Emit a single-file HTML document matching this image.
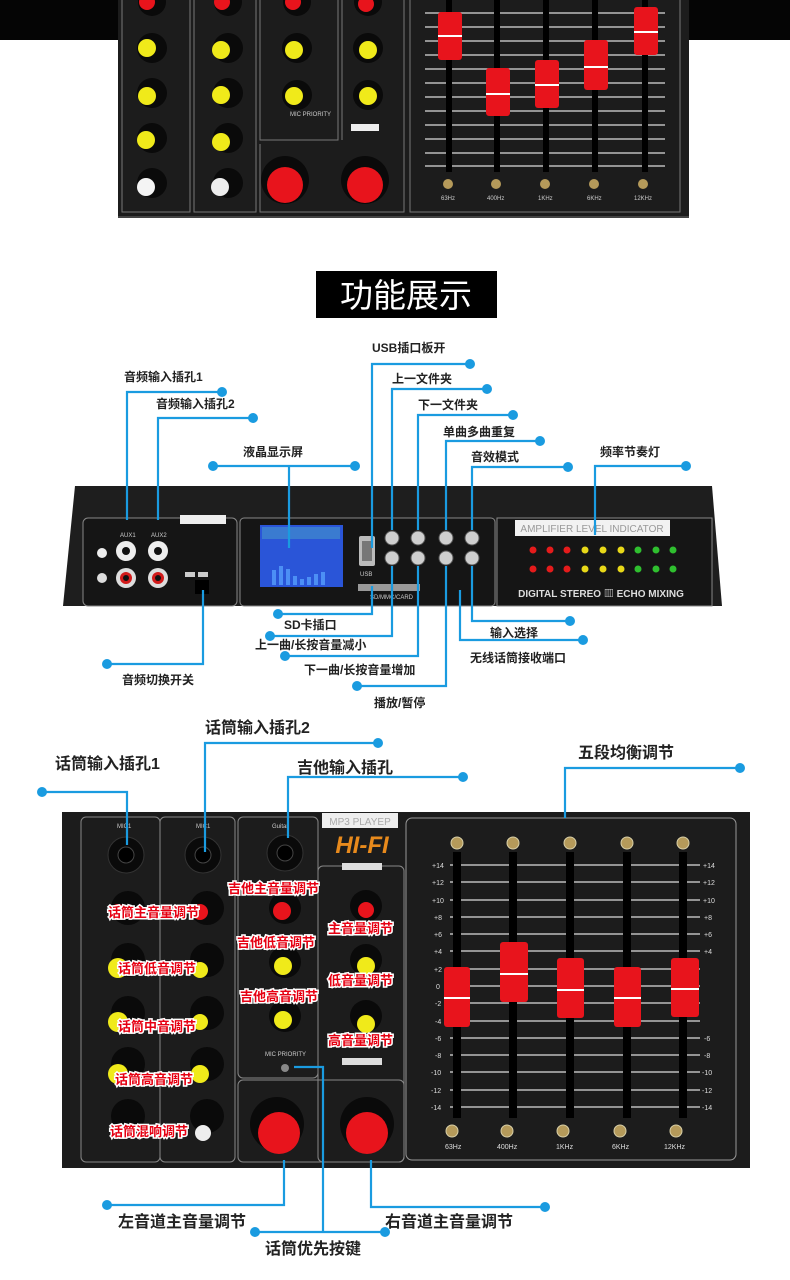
<!DOCTYPE html>
<html><head><meta charset="utf-8"><style>
html,body{margin:0;padding:0;background:#fff;}
svg{display:block;}
text{font-family:"Liberation Sans","Noto Sans CJK SC",sans-serif;}
.lb{font-size:12px;font-weight:bold;fill:#222;}
.lb2{font-size:16px;font-weight:bold;fill:#222;}
.rl{font-size:13px;font-weight:bold;fill:#e60012;stroke:#fff;stroke-width:3;paint-order:stroke;}
.ln{stroke:#1a9be0;stroke-width:2.2;fill:none;}
.dt{fill:#1a9be0;}
.sm{font-size:6px;fill:#ccc;}
.pn{fill:none;stroke:#777;stroke-width:1;}
</style></head><body>
<svg width="790" height="1280" viewBox="0 0 790 1280" xmlns="http://www.w3.org/2000/svg">
<rect width="790" height="1280" fill="#fff"/>
<!-- TOP PHOTO -->
<rect x="0" y="0" width="790" height="40" fill="#050505"/>
<rect x="118" y="0" width="571" height="218" fill="#1c1c1c"/>
<rect x="118" y="216" width="571" height="2" fill="#444"/>
<path class="pn" d="M122 0V212H190V0 M194 0V212H256V0 M260 0V140H338V0 M260 144V212H404V0 M342 0V140 M410 0V212H680V0"/>
<!-- top knobs -->
<g>
<circle cx="152" cy="2" r="14" fill="#0a0a0a"/><circle cx="147" cy="2" r="8" fill="#e8141c"/>
<circle cx="228" cy="2" r="14" fill="#0a0a0a"/><circle cx="222" cy="2" r="8" fill="#e8141c"/>
<circle cx="297" cy="2" r="14" fill="#0a0a0a"/><circle cx="293" cy="2" r="8" fill="#e8141c"/>
<circle cx="368" cy="2" r="14" fill="#0a0a0a"/><circle cx="366" cy="4" r="8" fill="#e8141c"/>
<circle cx="152" cy="48" r="15" fill="#0a0a0a"/><circle cx="147" cy="48" r="9" fill="#f0ea1a"/>
<circle cx="152" cy="93" r="15" fill="#0a0a0a"/><circle cx="147" cy="96" r="9" fill="#f0ea1a"/>
<circle cx="152" cy="138" r="15" fill="#0a0a0a"/><circle cx="146" cy="140" r="9" fill="#f0ea1a"/>
<circle cx="152" cy="183" r="15" fill="#0a0a0a"/><circle cx="146" cy="187" r="9" fill="#f4f4f4"/>
<circle cx="228" cy="48" r="15" fill="#0a0a0a"/><circle cx="221" cy="50" r="9" fill="#f0ea1a"/>
<circle cx="228" cy="93" r="15" fill="#0a0a0a"/><circle cx="221" cy="95" r="9" fill="#f0ea1a"/>
<circle cx="228" cy="138" r="15" fill="#0a0a0a"/><circle cx="221" cy="142" r="9" fill="#f0ea1a"/>
<circle cx="228" cy="183" r="15" fill="#0a0a0a"/><circle cx="220" cy="187" r="9" fill="#eee"/>
<circle cx="297" cy="48" r="15" fill="#0a0a0a"/><circle cx="294" cy="50" r="9" fill="#f0ea1a"/>
<circle cx="297" cy="95" r="15" fill="#0a0a0a"/><circle cx="294" cy="96" r="9" fill="#f0ea1a"/>
<circle cx="368" cy="48" r="15" fill="#0a0a0a"/><circle cx="368" cy="50" r="9" fill="#f0ea1a"/>
<circle cx="368" cy="95" r="15" fill="#0a0a0a"/><circle cx="368" cy="96" r="9" fill="#f0ea1a"/>
<circle cx="285" cy="180" r="24" fill="#0a0a0a"/><circle cx="285" cy="185" r="18" fill="#e8141c"/>
<circle cx="365" cy="180" r="24" fill="#0a0a0a"/><circle cx="365" cy="185" r="18" fill="#e8141c"/>
<rect x="351" y="124" width="28" height="7" fill="#eee"/>
<text x="290" y="116" class="sm">MIC PRIORITY</text>
</g>
<!-- top EQ -->
<g stroke="#bbb" stroke-width="1.5">
<line x1="425" y1="13" x2="665" y2="13"/><line x1="425" y1="27" x2="665" y2="27"/><line x1="425" y1="41" x2="665" y2="41"/><line x1="425" y1="55" x2="665" y2="55"/><line x1="425" y1="69" x2="665" y2="69"/><line x1="425" y1="83" x2="665" y2="83"/><line x1="425" y1="97" x2="665" y2="97"/><line x1="425" y1="111" x2="665" y2="111"/><line x1="425" y1="125" x2="665" y2="125"/><line x1="425" y1="139" x2="665" y2="139"/><line x1="425" y1="153" x2="665" y2="153"/><line x1="425" y1="166" x2="665" y2="166"/>
</g>
<g fill="#000"><rect x="446" y="0" width="6" height="172"/><rect x="494" y="0" width="6" height="172"/><rect x="543" y="0" width="6" height="172"/><rect x="592" y="0" width="6" height="172"/><rect x="642" y="0" width="6" height="172"/></g>
<g fill="#e8141c">
<rect x="438" y="12" width="24" height="48" rx="3"/><rect x="486" y="68" width="24" height="48" rx="3"/><rect x="535" y="60" width="24" height="48" rx="3"/><rect x="584" y="40" width="24" height="50" rx="3"/><rect x="634" y="7" width="24" height="48" rx="3"/>
</g>
<g fill="#fff"><rect x="438" y="35" width="24" height="2"/><rect x="486" y="93" width="24" height="2"/><rect x="535" y="84" width="24" height="2"/><rect x="584" y="66" width="24" height="2"/><rect x="634" y="31" width="24" height="2"/></g>
<g fill="#b59a5a"><circle cx="448" cy="184" r="5"/><circle cx="496" cy="184" r="5"/><circle cx="545" cy="184" r="5"/><circle cx="594" cy="184" r="5"/><circle cx="643" cy="184" r="5"/></g>
<g class="sm" font-size="5"><text x="441" y="200">63Hz</text><text x="487" y="200">400Hz</text><text x="538" y="200">1KHz</text><text x="587" y="200">6KHz</text><text x="634" y="200">12KHz</text></g>

<!-- TITLE -->
<rect x="316" y="271" width="181" height="47" fill="#000"/>
<text x="406" y="307" text-anchor="middle" font-size="33" fill="#fff" style="font-family:'Noto Sans CJK SC',sans-serif">功能展示</text>

<!-- MIDDLE PANEL -->
<path d="M75 486H712L722 606H63Z" fill="#1e1e1e"/>
<rect x="83" y="518" width="154" height="88" rx="5" fill="#151515" stroke="#888" stroke-width="1"/>
<rect x="180" y="515" width="46" height="9" fill="#eee"/>
<rect x="240" y="518" width="255" height="88" rx="4" fill="#151515" stroke="#888"/>
<rect x="497" y="518" width="215" height="88" fill="#151515" stroke="#888"/>
<rect x="260" y="525" width="83" height="62" fill="#2a55d8"/>
<rect x="262" y="527" width="78" height="12" fill="#3a7bd0"/>
<g fill="#4c8ff5"><rect x="272" y="570" width="4" height="15"/><rect x="279" y="566" width="4" height="19"/><rect x="286" y="569" width="4" height="16"/><rect x="293" y="576" width="4" height="9"/><rect x="300" y="579" width="4" height="6"/><rect x="307" y="577" width="4" height="8"/><rect x="314" y="574" width="4" height="11"/><rect x="321" y="572" width="4" height="13"/></g>
<circle cx="102" cy="553" r="5" fill="#eee"/><circle cx="102" cy="578" r="5" fill="#ddd"/>
<circle cx="126" cy="551" r="10" fill="#eee"/><circle cx="126" cy="551" r="4" fill="#111"/>
<circle cx="158" cy="551" r="10" fill="#eee"/><circle cx="158" cy="551" r="4" fill="#111"/>
<circle cx="126" cy="578" r="10" fill="#ddd"/><circle cx="126" cy="578" r="6" fill="#d21a1a"/><circle cx="126" cy="578" r="3" fill="#111"/>
<circle cx="158" cy="578" r="10" fill="#ddd"/><circle cx="158" cy="578" r="6" fill="#d21a1a"/><circle cx="158" cy="578" r="3" fill="#111"/>
<text x="120" y="537" class="sm" font-size="7" fill="#eee">AUX1</text><text x="151" y="537" class="sm" font-size="7" fill="#eee">AUX2</text>
<rect x="185" y="572" width="10" height="5" fill="#ccc"/><rect x="198" y="572" width="10" height="5" fill="#ccc"/>
<rect x="195" y="580" width="14" height="14" fill="#000"/>
<rect x="359" y="536" width="16" height="30" rx="2" fill="#bbb"/><rect x="362" y="541" width="10" height="20" fill="#777"/>
<text x="360" y="576" class="sm" font-size="7">USB</text>
<rect x="358" y="584" width="62" height="7" fill="#999"/>
<text x="370" y="599" class="sm" font-size="5">SD/MMC/CARD</text>
<g fill="#cfcfcf" stroke="#555"><circle cx="392" cy="538" r="7"/><circle cx="418" cy="538" r="7"/><circle cx="446" cy="538" r="7"/><circle cx="472" cy="538" r="7"/><circle cx="392" cy="558" r="7"/><circle cx="418" cy="558" r="7"/><circle cx="446" cy="558" r="7"/><circle cx="472" cy="558" r="7"/></g>
<rect x="515" y="520" width="155" height="16" fill="#f2f2f2"/>
<text x="592" y="532" text-anchor="middle" font-size="10" fill="#999">AMPLIFIER LEVEL INDICATOR</text>
<g><circle cx="533" cy="550" r="3.5" fill="#e51b1b"/><circle cx="550" cy="550" r="3.5" fill="#e51b1b"/><circle cx="567" cy="550" r="3.5" fill="#e51b1b"/><circle cx="585" cy="550" r="3.5" fill="#e8d818"/><circle cx="603" cy="550" r="3.5" fill="#e8d818"/><circle cx="621" cy="550" r="3.5" fill="#e8d818"/><circle cx="638" cy="550" r="3.5" fill="#2fbf2f"/><circle cx="656" cy="550" r="3.5" fill="#2fbf2f"/><circle cx="673" cy="550" r="3.5" fill="#2fbf2f"/>
<circle cx="533" cy="569" r="3.5" fill="#e51b1b"/><circle cx="550" cy="569" r="3.5" fill="#e51b1b"/><circle cx="567" cy="569" r="3.5" fill="#e51b1b"/><circle cx="585" cy="569" r="3.5" fill="#e8d818"/><circle cx="603" cy="569" r="3.5" fill="#e8d818"/><circle cx="621" cy="569" r="3.5" fill="#e8d818"/><circle cx="638" cy="569" r="3.5" fill="#2fbf2f"/><circle cx="656" cy="569" r="3.5" fill="#2fbf2f"/><circle cx="673" cy="569" r="3.5" fill="#2fbf2f"/></g>
<text x="601" y="597" text-anchor="middle" font-size="10" font-weight="bold" fill="#ddd">DIGITAL STEREO ▥ ECHO MIXING</text>

<!-- middle connectors -->
<g class="ln">
<path d="M127 520V392H222"/><path d="M158 520V418H253"/>
<path d="M213 466H355 M289 466V548"/>
<path d="M372 548V364H470"/><path d="M392 530V389H487"/><path d="M418 530V415H513"/><path d="M446 530V441H540"/><path d="M472 530V467H568"/>
<path d="M595 535V466H686"/>
<path d="M372 586V614H278"/><path d="M392 566V636H270"/><path d="M418 566V656H285"/><path d="M446 566V686H357"/>
<path d="M472 566V621H570"/><path d="M460 590V640H583"/>
<path d="M203 590V664H107"/>
</g>
<g class="dt">
<circle cx="222" cy="392" r="5"/><circle cx="253" cy="418" r="5"/><circle cx="213" cy="466" r="5"/><circle cx="355" cy="466" r="5"/>
<circle cx="470" cy="364" r="5"/><circle cx="487" cy="389" r="5"/><circle cx="513" cy="415" r="5"/><circle cx="540" cy="441" r="5"/><circle cx="568" cy="467" r="5"/><circle cx="686" cy="466" r="5"/>
<circle cx="278" cy="614" r="5"/><circle cx="270" cy="636" r="5"/><circle cx="285" cy="656" r="5"/><circle cx="357" cy="686" r="5"/>
<circle cx="570" cy="621" r="5"/><circle cx="583" cy="640" r="5"/><circle cx="107" cy="664" r="5"/>
</g>
<g class="lb">
<text x="372" y="352">USB插口板开</text>
<text x="124" y="381">音频输入插孔1</text>
<text x="156" y="408">音频输入插孔2</text>
<text x="392" y="383">上一文件夹</text>
<text x="418" y="409">下一文件夹</text>
<text x="443" y="436">单曲多曲重复</text>
<text x="243" y="456">液晶显示屏</text>
<text x="471" y="461">音效模式</text>
<text x="600" y="456">频率节奏灯</text>
<text x="284" y="629">SD卡插口</text>
<text x="255" y="649">上一曲/长按音量减小</text>
<text x="304" y="674">下一曲/长按音量增加</text>
<text x="374" y="707">播放/暂停</text>
<text x="490" y="637">输入选择</text>
<text x="470" y="662">无线话筒接收端口</text>
<text x="122" y="684">音频切换开关</text>
</g>

<!-- BOTTOM PANEL -->
<rect x="62" y="812" width="688" height="356" fill="#1c1c1c"/>
<rect x="81" y="817" width="79" height="345" rx="5" fill="none" stroke="#888"/>
<rect x="160" y="817" width="75" height="345" rx="5" fill="none" stroke="#888"/>
<rect x="238" y="817" width="80" height="261" rx="5" fill="none" stroke="#888"/>
<rect x="318" y="866" width="86" height="296" rx="5" fill="none" stroke="#888"/>
<rect x="238" y="1080" width="166" height="82" rx="5" fill="none" stroke="#888"/>
<rect x="406" y="818" width="330" height="342" rx="6" fill="none" stroke="#999"/>
<rect x="322" y="813" width="76" height="15" fill="#eee"/>
<text x="360" y="825" text-anchor="middle" font-size="10" fill="#aaa">MP3 PLAYEP</text>
<text x="362" y="853" text-anchor="middle" font-size="24" font-weight="bold" font-style="italic" fill="#e88a1c">HI-FI</text>
<rect x="342" y="863" width="40" height="7" fill="#ddd"/><rect x="342" y="1058" width="40" height="7" fill="#ddd"/>
<g class="sm" font-size="7" fill="#eee"><text x="117" y="828">MIC1</text><text x="196" y="828">MIC1</text><text x="272" y="828">Guitar</text><text x="265" y="1056">MIC PRIORITY</text></g>
<g><circle cx="126" cy="855" r="18" fill="#0a0a0a" stroke="#333"/><circle cx="126" cy="855" r="8" fill="#000" stroke="#444"/>
<circle cx="203" cy="855" r="18" fill="#0a0a0a" stroke="#333"/><circle cx="203" cy="855" r="8" fill="#000" stroke="#444"/>
<circle cx="285" cy="853" r="18" fill="#0a0a0a" stroke="#333"/><circle cx="285" cy="853" r="8" fill="#000" stroke="#444"/></g>
<g>
<circle cx="128" cy="908" r="17" fill="#0a0a0a"/><circle cx="118" cy="912" r="8" fill="#e8141c"/>
<circle cx="128" cy="960" r="17" fill="#0a0a0a"/><circle cx="118" cy="968" r="10" fill="#f0ea1a"/>
<circle cx="128" cy="1013" r="17" fill="#0a0a0a"/><circle cx="118" cy="1022" r="10" fill="#f0ea1a"/>
<circle cx="128" cy="1064" r="17" fill="#0a0a0a"/><circle cx="118" cy="1074" r="10" fill="#f0ea1a"/>
<circle cx="128" cy="1116" r="17" fill="#0a0a0a"/>
<circle cx="207" cy="908" r="17" fill="#0a0a0a"/><circle cx="200" cy="912" r="8" fill="#e8141c"/>
<circle cx="207" cy="960" r="17" fill="#0a0a0a"/><circle cx="200" cy="970" r="8" fill="#f0ea1a"/>
<circle cx="207" cy="1013" r="17" fill="#0a0a0a"/><circle cx="200" cy="1022" r="8" fill="#f0ea1a"/>
<circle cx="207" cy="1064" r="17" fill="#0a0a0a"/><circle cx="200" cy="1074" r="9" fill="#f0ea1a"/>
<circle cx="207" cy="1116" r="17" fill="#0a0a0a"/><circle cx="203" cy="1133" r="8" fill="#eee"/>
<circle cx="285" cy="908" r="16" fill="#0a0a0a"/><circle cx="282" cy="911" r="9" fill="#e8141c"/>
<circle cx="285" cy="962" r="16" fill="#0a0a0a"/><circle cx="283" cy="966" r="9" fill="#f0ea1a"/>
<circle cx="285" cy="1016" r="16" fill="#0a0a0a"/><circle cx="283" cy="1020" r="9" fill="#f0ea1a"/>
<circle cx="366" cy="906" r="16" fill="#0a0a0a"/><circle cx="366" cy="910" r="8" fill="#e8141c"/>
<circle cx="366" cy="960" r="16" fill="#0a0a0a"/><circle cx="366" cy="966" r="9" fill="#f0ea1a"/>
<circle cx="366" cy="1016" r="16" fill="#0a0a0a"/><circle cx="366" cy="1024" r="9" fill="#f0ea1a"/>
<circle cx="277" cy="1124" r="27" fill="#0a0a0a"/><circle cx="279" cy="1133" r="21" fill="#e8141c"/>
<circle cx="367" cy="1124" r="27" fill="#0a0a0a"/><circle cx="367" cy="1133" r="21" fill="#e8141c"/>
<circle cx="285" cy="1068" r="4" fill="#888"/>
</g>
<!-- EQ -->
<g stroke="#bbb" stroke-width="1.6">
<line x1="450" y1="865" x2="700" y2="865"/><line x1="450" y1="882" x2="700" y2="882"/><line x1="450" y1="900" x2="700" y2="900"/><line x1="450" y1="917" x2="700" y2="917"/><line x1="450" y1="934" x2="700" y2="934"/><line x1="450" y1="951" x2="700" y2="951"/><line x1="450" y1="969" x2="700" y2="969"/><line x1="450" y1="986" x2="700" y2="986"/><line x1="450" y1="1003" x2="700" y2="1003"/><line x1="450" y1="1021" x2="700" y2="1021"/><line x1="450" y1="1038" x2="700" y2="1038"/><line x1="450" y1="1055" x2="700" y2="1055"/><line x1="450" y1="1072" x2="700" y2="1072"/><line x1="450" y1="1090" x2="700" y2="1090"/><line x1="450" y1="1107" x2="700" y2="1107"/>
</g>
<g fill="#000"><rect x="453" y="852" width="8" height="266"/><rect x="509" y="852" width="8" height="266"/><rect x="566" y="852" width="8" height="266"/><rect x="623" y="852" width="8" height="266"/><rect x="679" y="852" width="8" height="266"/></g>
<g font-size="7" fill="#ddd">
<text x="432" y="868">+14</text><text x="432" y="885">+12</text><text x="432" y="903">+10</text><text x="434" y="920">+8</text><text x="434" y="937">+6</text><text x="434" y="954">+4</text><text x="434" y="972">+2</text><text x="436" y="989">0</text><text x="435" y="1006">-2</text><text x="435" y="1024">-4</text><text x="435" y="1041">-6</text><text x="435" y="1058">-8</text><text x="431" y="1075">-10</text><text x="431" y="1093">-12</text><text x="431" y="1110">-14</text>
<text x="703" y="868">+14</text><text x="703" y="885">+12</text><text x="703" y="903">+10</text><text x="704" y="920">+8</text><text x="704" y="937">+6</text><text x="704" y="954">+4</text><text x="704" y="1041">-6</text><text x="704" y="1058">-8</text><text x="702" y="1075">-10</text><text x="702" y="1093">-12</text><text x="702" y="1110">-14</text>
</g>
<g fill="#e8141c">
<rect x="444" y="967" width="26" height="60" rx="3"/><rect x="500" y="942" width="28" height="60" rx="3"/><rect x="557" y="958" width="27" height="60" rx="3"/><rect x="614" y="967" width="27" height="60" rx="3"/><rect x="671" y="958" width="28" height="59" rx="3"/>
</g>
<g fill="#fff"><rect x="444" y="997" width="26" height="2"/><rect x="500" y="973" width="28" height="2"/><rect x="557" y="989" width="27" height="2"/><rect x="614" y="997" width="27" height="2"/><rect x="671" y="988" width="28" height="2"/></g>
<g fill="#b59a5a" stroke="#d8cfa8"><circle cx="457" cy="843" r="6"/><circle cx="513" cy="843" r="6"/><circle cx="570" cy="843" r="6"/><circle cx="627" cy="843" r="6"/><circle cx="683" cy="843" r="6"/>
<circle cx="452" cy="1131" r="6"/><circle cx="507" cy="1131" r="6"/><circle cx="563" cy="1131" r="6"/><circle cx="620" cy="1131" r="6"/><circle cx="676" cy="1131" r="6"/></g>
<g font-size="7" fill="#ddd"><text x="445" y="1149">63Hz</text><text x="497" y="1149">400Hz</text><text x="556" y="1149">1KHz</text><text x="612" y="1149">6KHz</text><text x="664" y="1149">12KHz</text></g>
<!-- red labels -->
<g class="rl">
<text x="108" y="917">话筒主音量调节</text>
<text x="118" y="973">话筒低音调节</text>
<text x="118" y="1031">话筒中音调节</text>
<text x="115" y="1084">话筒高音调节</text>
<text x="110" y="1136">话筒混响调节</text>
<text x="228" y="893">吉他主音量调节</text>
<text x="237" y="947">吉他低音调节</text>
<text x="240" y="1001">吉他高音调节</text>
<text x="328" y="933">主音量调节</text>
<text x="328" y="985">低音量调节</text>
<text x="328" y="1045">高音量调节</text>
</g>
<!-- bottom connectors -->
<g class="ln">
<path d="M127 845V792H42"/>
<path d="M205 852V743H378"/>
<path d="M288 838V777H463"/>
<path d="M565 818V768H740"/>
<path d="M284 1160V1205H107"/>
<path d="M371 1160V1207H545"/>
<path d="M294 1067H323V1232 M255 1232H385"/>
</g>
<g class="dt">
<circle cx="42" cy="792" r="5"/><circle cx="378" cy="743" r="5"/><circle cx="463" cy="777" r="5"/><circle cx="740" cy="768" r="5"/>
<circle cx="107" cy="1205" r="5"/><circle cx="545" cy="1207" r="5"/><circle cx="255" cy="1232" r="5"/><circle cx="385" cy="1232" r="5"/>
</g>
<g class="lb2">
<text x="205" y="733">话筒输入插孔2</text>
<text x="55" y="769">话筒输入插孔1</text>
<text x="297" y="773">吉他输入插孔</text>
<text x="578" y="758">五段均衡调节</text>
<text x="118" y="1227">左音道主音量调节</text>
<text x="385" y="1227">右音道主音量调节</text>
<text x="265" y="1254">话筒优先按键</text>
</g>
</svg>
</body></html>
